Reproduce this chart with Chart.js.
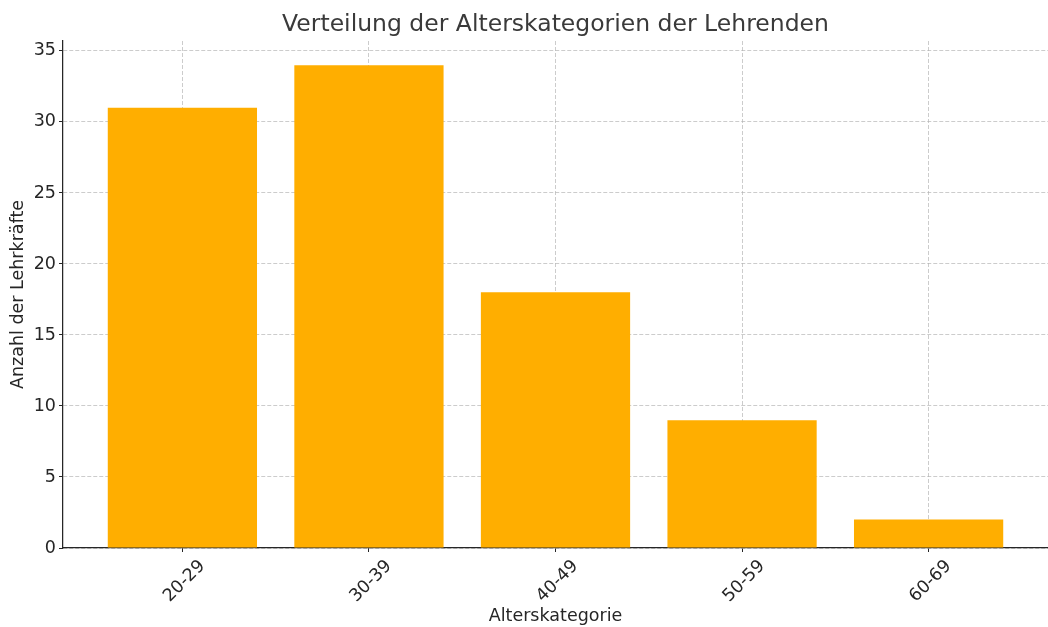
<!DOCTYPE html>
<html>
<head>
<meta charset="utf-8">
<script src="https://cdn.jsdelivr.net/npm/chart.js@4"></script>
<style>
  html, body { margin: 0; padding: 0; background: #fff; }
</style>
</head>
<body>
<canvas id="chart" width="1048" height="627"></canvas>
<script>
const categories = ['20-29', '30-39', '40-49', '50-59', '60-69'];
const counts = [31, 34, 18, 9, 2];
const yTicks = [0, 5, 10, 15, 20, 25, 30, 35];

const titleText = 'Verteilung der Alterskategorien der Lehrenden';
const fontFamily = '"DejaVu Sans", sans-serif';
const textColor = '#262626';
const gridColor = 'rgba(176, 176, 176, 0.65)';

// title centred over the plot area like matplotlib does
const plotTitle = {
    id: 'plotTitle',
    afterDraw(chart) {
        const ctx = chart.ctx;
        const area = chart.chartArea;
        ctx.save();
        ctx.font = '23.5px ' + fontFamily;
        ctx.fillStyle = '#3a3a3a';
        ctx.textAlign = 'center';
        ctx.textBaseline = 'middle';
        ctx.fillText(titleText, (area.left + area.right) / 2, 25);
        ctx.restore();
    }
};

new Chart(document.getElementById('chart'), {
    type: 'bar',
    data: {
        datasets: [{
            data: counts.map((v, i) => ({ x: i, y: v })),
            backgroundColor: '#ffae00',
            borderWidth: 0,
            barPercentage: 0.8,
            categoryPercentage: 1.0
        }]
    },
    options: {
        responsive: false,
        animation: false,
        layout: { padding: { top: 41, right: 0, bottom: 0, left: 8 } },
        plugins: {
            legend: { display: false },
            tooltip: { enabled: false }
        },
        scales: {
            x: {
                type: 'linear',
                min: -0.64,
                max: 4.64,
                offset: false,
                z: 1,
                afterBuildTicks: axis => { axis.ticks = categories.map((c, i) => ({ value: i })); },
                afterFit: axis => { axis.height = 79; },
                ticks: {
                    callback: v => categories[v],
                    minRotation: 45,
                    maxRotation: 45,
                    labelOffset: 20,
                    padding: 4,
                    color: textColor,
                    font: { family: fontFamily, size: 17.5 }
                },
                grid: {
                    offset: false,
                    color: gridColor,
                    lineWidth: 1,
                    tickColor: '#262626',
                    tickLength: 4,
                    tickWidth: 1,
                    tickBorderDash: []
                },
                border: { color: '#262626', width: 1.25, dash: [4, 2] },
                title: {
                    display: true,
                    text: 'Alterskategorie',
                    color: textColor,
                    padding: 0,
                    font: { family: fontFamily, size: 17.5 }
                }
            },
            y: {
                min: 0,
                max: 35.7,
                z: 1,
                afterBuildTicks: axis => { axis.ticks = yTicks.map(v => ({ value: v })); },
                afterFit: axis => { axis.width = 55; },
                ticks: {
                    padding: 3,
                    color: textColor,
                    font: { family: fontFamily, size: 17.5 }
                },
                grid: {
                    color: gridColor,
                    lineWidth: 1,
                    tickColor: '#262626',
                    tickLength: 4,
                    tickWidth: 1,
                    tickBorderDash: []
                },
                border: { color: '#262626', width: 1.25, dash: [4, 2] },
                title: {
                    display: true,
                    text: 'Anzahl der Lehrkräfte',
                    color: textColor,
                    padding: 0,
                    font: { family: fontFamily, size: 17.5 }
                }
            }
        }
    },
    plugins: [plotTitle]
});
</script>
</body>
</html>
